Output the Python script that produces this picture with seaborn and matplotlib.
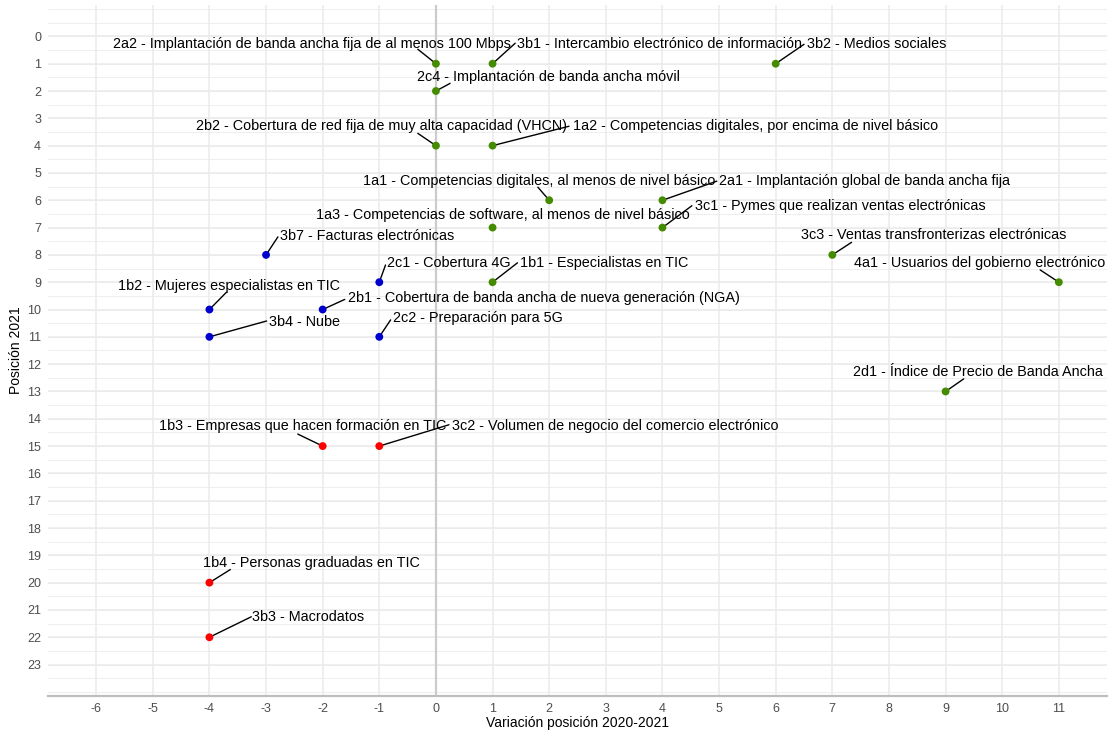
import matplotlib
matplotlib.use("Agg")
import matplotlib.pyplot as plt
import seaborn as sns
import pandas as pd
import numpy as np

# Datos: indicadores DESI, variación de posición y posición 2021
codigos = ["2a2", "3b1", "3b2", "2c4", "2b2", "1a2", "1a1", "2a1", "1a3", "3c1",
           "3b7", "3c3", "2c1", "1b1", "4a1", "1b2", "2b1", "3b4", "2c2", "2d1",
           "1b3", "3c2", "1b4", "3b3"]
nombres = [
    "Implantación de banda ancha fija de al menos 100 Mbps",
    "Intercambio electrónico de información",
    "Medios sociales",
    "Implantación de banda ancha móvil",
    "Cobertura de red fija de muy alta capacidad (VHCN)",
    "Competencias digitales, por encima de nivel básico",
    "Competencias digitales, al menos de nivel básico",
    "Implantación global de banda ancha fija",
    "Competencias de software, al menos de nivel básico",
    "Pymes que realizan ventas electrónicas",
    "Facturas electrónicas",
    "Ventas transfronterizas electrónicas",
    "Cobertura 4G",
    "Especialistas en TIC",
    "Usuarios del gobierno electrónico",
    "Mujeres especialistas en TIC",
    "Cobertura de banda ancha de nueva generación (NGA)",
    "Nube",
    "Preparación para 5G",
    "Índice de Precio de Banda Ancha",
    "Empresas que hacen formación en TIC",
    "Volumen de negocio del comercio electrónico",
    "Personas graduadas en TIC",
    "Macrodatos",
]
variacion = [0, 1, 6, 0, 0, 1, 2, 4, 1, 4, -3, 7, -1, 1, 11, -4, -2, -4, -1, 9, -2, -1, -4, -4]
posicion = [1, 1, 1, 2, 4, 4, 6, 6, 7, 7, 8, 8, 9, 9, 9, 10, 10, 11, 11, 13, 15, 15, 20, 22]
grupo = ["verde"] * 10 + ["azul", "verde", "azul", "verde", "verde", "azul", "azul", "azul", "azul", "verde",
                          "rojo", "rojo", "rojo", "rojo"]

# colocación de etiquetas (desplazamiento texto / extremo del segmento)
etiq_dx = [-5.71, 0.43, 0.55, -0.34, -4.24, 1.42, -3.29, 1.00, -3.12, 0.58, 0.24, -0.56,
           0.14, 0.49, -3.61, -1.62, 0.45, 1.06, 0.24, -1.63, -2.89, 1.29, -0.12, 0.76]
etiq_dy = [-0.71, -0.71, -0.71, -0.52, -0.71, -0.71, -0.70, -0.70, -0.46, -0.80, -0.69, -0.72,
           -0.69, -0.69, -0.71, -0.85, -0.41, -0.56, -0.68, -0.71, -0.74, -0.74, -0.72, -0.73]
seg_dx = [-0.32, 0.40, 0.50, 0.25, -0.32, 1.35, -0.20, 0.96, np.nan, 0.52, 0.21, 0.34,
          0.11, 0.44, -0.33, 0.30, 0.39, 1.01, 0.20, 0.32, -0.44, 1.23, 0.37, 0.74]
seg_dy = [-0.53, -0.75, -0.71, -0.28, -0.45, -0.71, -0.48, -0.70, np.nan, -0.80, -0.66, -0.46,
          -0.63, -0.71, -0.45, -0.63, -0.37, -0.58, -0.62, -0.46, -0.44, -0.78, -0.48, -0.75]

colores = {"verde": "#458B00", "azul": "#0000CD", "rojo": "#FF0000"}

df = pd.DataFrame({
    "codigo": codigos, "nombre": nombres,
    "variacion": variacion, "posicion": posicion, "grupo": grupo,
})
df["etiqueta"] = df["codigo"] + " - " + df["nombre"]

sns.set_theme(style="white")
plt.rcParams["font.family"] = ["Liberation Sans", "DejaVu Sans"]
plt.rcParams["axes.unicode_minus"] = False

fig, ax = plt.subplots(figsize=(11.14, 7.33), dpi=100)
fig.subplots_adjust(left=0.0431, right=0.9937, top=0.9932, bottom=0.0505)

ax.set_xlim(-6.85, 11.85)
ax.set_ylim(24.15, -1.15)

# rejilla al estilo ggplot minimal
for yy in np.arange(-1, 24.01, 0.5):
    ax.axhline(yy, color="#EBEBEB", lw=0.6, zorder=0)
for yy in range(0, 24):
    ax.axhline(yy, color="#EBEBEB", lw=1.1, zorder=0)
for xx in range(-6, 12):
    ax.axvline(xx, color="#EBEBEB", lw=1.1, zorder=0)
ax.axvline(0, color="#CCCCCC", lw=1.6, zorder=1)

# segmentos
for i, fila in df.iterrows():
    if np.isnan(seg_dx[i]):
        continue
    ax.plot([fila["variacion"], fila["variacion"] + seg_dx[i]],
            [fila["posicion"], fila["posicion"] + seg_dy[i]],
            color="black", lw=1.0, zorder=2)

sns.scatterplot(data=df, x="variacion", y="posicion", hue="grupo", palette=colores,
                s=32, edgecolor="none", legend=False, ax=ax, zorder=3)

for i, fila in df.iterrows():
    ax.text(fila["variacion"] + etiq_dx[i], fila["posicion"] + etiq_dy[i], fila["etiqueta"],
            ha="left", va="center", fontsize=10.35, color="black", zorder=4)

ax.set_xticks(range(-6, 12))
ax.set_yticks(range(0, 24))
ax.tick_params(axis="both", length=0, labelsize=9, labelcolor="#4D4D4D", pad=5)
ax.grid(False)

for lado in ["top", "right", "left"]:
    ax.spines[lado].set_visible(False)
ax.spines["bottom"].set_color("#BEBEBE")
ax.spines["bottom"].set_linewidth(1.6)

ax.set_xlabel("Variación posición 2020-2021", fontsize=10, color="black", labelpad=1)
ax.set_ylabel("Posición 2021", fontsize=10, color="black", labelpad=3)

plt.savefig("out.png", dpi=100)
plt.close()
